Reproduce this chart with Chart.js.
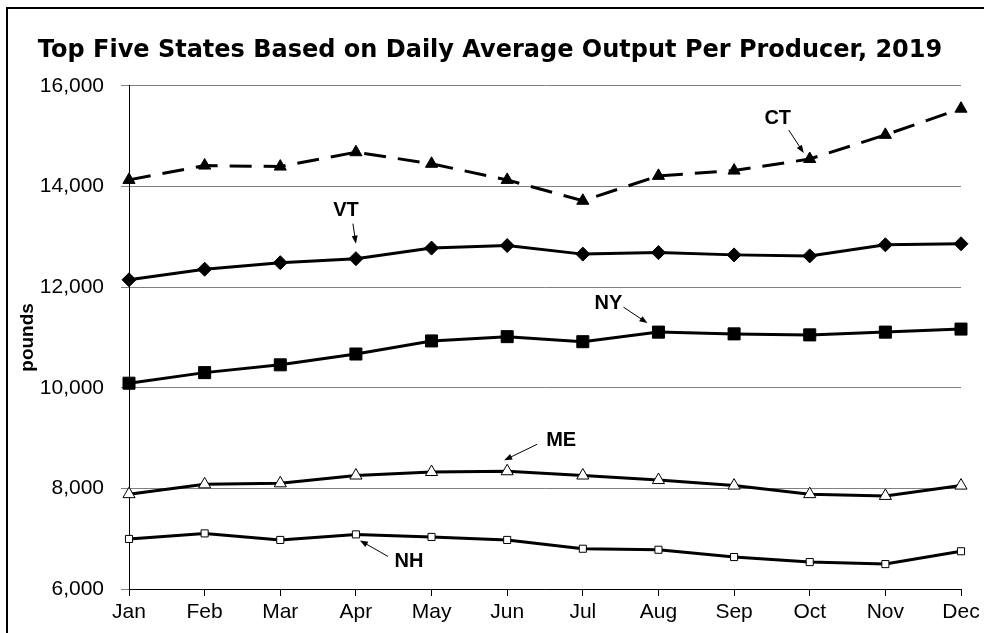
<!DOCTYPE html>
<html>
<head>
<meta charset="utf-8">
<title>Top Five States</title>
<script src="https://cdn.jsdelivr.net/npm/chart.js@4.4.1/dist/chart.umd.min.js"></script>
<style>
	body { margin: 0; background: #fff; }
	#wrap { position: relative; width: 984px; height: 633px; }
</style>
</head>
<body>
<div id="wrap"><canvas id="outputChart"></canvas></div>
<script>
// months and pounds per producer per day
const months = ['Jan', 'Feb', 'Mar', 'Apr', 'May', 'Jun', 'Jul', 'Aug', 'Sep', 'Oct', 'Nov', 'Dec']
const ctValues = [14130, 14415, 14395, 14680, 14450, 14130, 13715, 14210, 14315, 14545, 15025, 15545]
const vtValues = [12145, 12355, 12485, 12565, 12775, 12825, 12655, 12685, 12640, 12620, 12840, 12860]
const nyValues = [10090, 10300, 10455, 10670, 10930, 11015, 10915, 11105, 11070, 11050, 11105, 11165]
const meValues = [7885, 8080, 8100, 8255, 8325, 8340, 8255, 8165, 8055, 7885, 7850, 8055]
const nhValues = [6995, 7105, 6975, 7085, 7035, 6975, 6800, 6780, 6635, 6535, 6495, 6750]
const yTicks = [6000, 8000, 10000, 12000, 14000, 16000]

// labels with arrows: which series/month they point at
const callouts = [
	{ text: 'CT', ds: 0, idx: 9, label: [-32, -41], tail: [-21, -29], tip: [-6, -6] },
	{ text: 'VT', ds: 1, idx: 3, label: [-10, -48], tail: [-3, -35], tip: [0, -15] },
	{ text: 'NY', ds: 2, idx: 7, label: [-50, -29], tail: [-35, -25], tip: [-11, -9] },
	{ text: 'ME', ds: 3, idx: 5, label: [54, -31], tail: [30, -27], tip: [-3, -11] },
	{ text: 'NH', ds: 4, idx: 3, label: [53, 27], tail: [32, 22], tip: [4, 6] },
]

const calloutPlugin = {
	id: 'callouts',
	afterDatasetsDraw(chart) {
		const ctx = chart.ctx
		ctx.save()
		ctx.fillStyle = '#000'
		ctx.strokeStyle = '#000'
		ctx.font = 'bold 20px "Liberation Sans", Arial, sans-serif'
		ctx.textAlign = 'center'
		ctx.textBaseline = 'middle'
		callouts.forEach(c => {
			const pt = chart.getDatasetMeta(c.ds).data[c.idx]
			ctx.fillText(c.text, pt.x + c.label[0], pt.y + c.label[1])
			const x1 = pt.x + c.tail[0], y1 = pt.y + c.tail[1]
			const x2 = pt.x + c.tip[0], y2 = pt.y + c.tip[1]
			const a = Math.atan2(y2 - y1, x2 - x1)
			ctx.lineWidth = 1
			ctx.beginPath()
			ctx.moveTo(x1, y1)
			ctx.lineTo(x2 - 6 * Math.cos(a), y2 - 6 * Math.sin(a))
			ctx.stroke()
			ctx.beginPath()
			ctx.moveTo(x2, y2)
			ctx.lineTo(x2 - 8 * Math.cos(a) + 3 * Math.sin(a), y2 - 8 * Math.sin(a) - 3 * Math.cos(a))
			ctx.lineTo(x2 - 8 * Math.cos(a) - 3 * Math.sin(a), y2 - 8 * Math.sin(a) + 3 * Math.cos(a))
			ctx.closePath()
			ctx.fill()
		})
		ctx.restore()
	},
}

const framePlugin = {
	id: 'frame',
	beforeDraw(chart) {
		const ctx = chart.ctx
		ctx.save()
		ctx.fillStyle = '#fff'
		ctx.fillRect(0, 0, chart.width, chart.height)
		ctx.strokeStyle = '#000'
		ctx.lineWidth = 2
		ctx.strokeRect(7, 8, chart.width + 20, chart.height + 20)
		ctx.restore()
	},
}

function series(data, opts) {
	return Object.assign({
		data: data,
		borderColor: '#000',
		borderWidth: 3,
		pointBorderColor: '#000',
		pointBorderWidth: 1,
		tension: 0,
	}, opts)
}

window.addEventListener('DOMContentLoaded', () => {
	const outputCtx = document.getElementById('outputChart')
	new Chart(outputCtx.getContext('2d'), {
		type: 'line',
		data: {
			labels: months,
			datasets: [
				series(ctValues, { label: 'CT', borderDash: [22, 12], pointStyle: 'triangle', pointRadius: 7, pointBackgroundColor: '#000' }),
				series(vtValues, { label: 'VT', pointStyle: 'rectRot', pointRadius: 7, pointBackgroundColor: '#000' }),
				series(nyValues, { label: 'NY', pointStyle: 'rect', pointRadius: 8.5, pointBackgroundColor: '#000' }),
				series(meValues, { label: 'ME', pointStyle: 'triangle', pointRadius: 7, pointBackgroundColor: '#fff' }),
				series(nhValues, { label: 'NH', pointStyle: 'rect', pointRadius: 5, pointBackgroundColor: '#fff' }),
			],
		},
		options: {
			responsive: true,
			maintainAspectRatio: false,
			animation: false,
			layout: {
				padding: { left: 19, right: 23, top: 0, bottom: 0 },
			},
			plugins: {
				legend: { display: false },
				tooltip: { enabled: false },
				title: {
					display: true,
					text: 'Top Five States Based on Daily Average Output Per Producer, 2019',
					color: '#000',
					font: { family: '"DejaVu Sans", Verdana, sans-serif', size: 24, weight: 'bold' },
					padding: { top: 36, bottom: 21 },
				},
			},
			scales: {
				x: {
					offset: false,
					afterFit: scale => { scale.height = 44 },
					border: { color: '#000', width: 1 },
					grid: { display: true, drawOnChartArea: false, color: '#000', tickLength: 7 },
					ticks: {
						color: '#000',
						padding: 4,
						maxRotation: 0,
						font: { family: '"Liberation Sans", Arial, sans-serif', size: 21 },
					},
				},
				y: {
					min: 6000,
					max: 16000,
					afterFit: scale => { scale.width = 110 },
					afterBuildTicks: scale => { scale.ticks = yTicks.map(v => ({ value: v })) },
					border: { color: '#000', width: 1 },
					grid: { color: '#808080', tickLength: 8 },
					title: {
						display: true,
						text: 'pounds',
						color: '#000',
						font: { family: '"Liberation Sans", Arial, sans-serif', size: 19, weight: 'bold' },
						padding: { top: -3, bottom: 0 },
					},
					ticks: {
						color: '#000',
						padding: 17,
						font: { family: '"Liberation Sans", Arial, sans-serif', size: 21 },
						callback: v => v.toLocaleString('en-US'),
					},
				},
			},
		},
		plugins: [framePlugin, calloutPlugin],
	})
})
</script>
</body>
</html>
